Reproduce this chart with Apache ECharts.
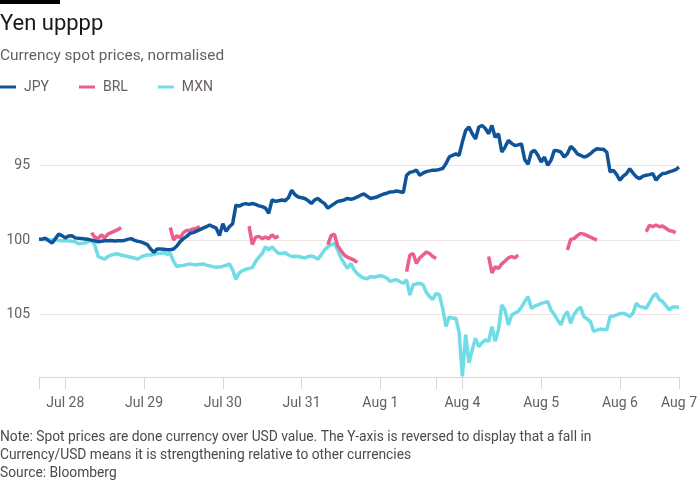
<!DOCTYPE html>
<html><head><meta charset="utf-8">
<script src="https://cdn.jsdelivr.net/npm/echarts@6/dist/echarts.min.js"></script>
<style>html,body{margin:0;padding:0;background:#fff}#c{width:700px;height:500px}</style>
</head><body><div id="c"></div>
<script>
// Trading sessions (weekend removed), hourly steps
const sessions = [
  {start: '2025-07-27T16:00:00Z', hours: 121},
  {start: '2025-08-03T16:00:00Z', hours: 75}
];
const endLabel = 'Aug 7';
const monthNames = ['Jan','Feb','Mar','Apr','May','Jun','Jul','Aug','Sep','Oct','Nov','Dec'];

const jpy = [
  99.95, 99.92, 99.88, 100.05, 100.2, 99.9, 99.6, 99.7, 99.85, 99.72,
  99.7, 99.85, 99.88, 99.9, 99.92, 99.95, 100.0, 100.05, 100.12, 100.08,
  100.05, 100.05, 100.03, 100.06, 100.04, 100.05, 100.02, 99.95, 99.9, 100.0,
  100.08, 100.12, 100.2, 100.3, 100.6, 100.82, 100.6, 100.6, 100.62, 100.65,
  100.65, 100.6, 100.4, 100.1, 99.9, 99.75, 99.55, 99.5, 99.4, 99.3,
  99.2, 99.1, 98.98, 99.1, 99.2, 99.7, 98.9, 99.4, 99.1, 98.9,
  97.65, 97.72, 97.6, 97.55, 97.6, 97.54, 97.6, 97.7, 97.75, 97.85,
  98.2, 97.3, 97.4, 97.35, 97.3, 97.35, 97.15, 96.65, 96.95, 97.1,
  97.15, 97.2, 97.35, 97.54, 97.3, 97.2, 97.4, 97.55, 97.85, 97.7,
  97.55, 97.4, 97.35, 97.3, 97.2, 97.25, 97.2, 97.1, 96.98, 96.9,
  97.05, 97.2, 97.15, 97.1, 97.0, 96.9, 96.85, 96.76, 96.75, 96.7,
  96.75, 96.8, 95.64, 95.45, 95.4, 95.3, 95.64, 95.5, 95.4, 95.35,
  95.3, 95.3, 95.25, 95.19, 94.86, 94.42, 94.3, 94.2, 94.3, 93.4,
  92.63, 92.4, 92.85, 93.2, 92.4, 92.3, 92.5, 92.85, 92.3, 93.1,
  92.85, 94.08, 93.75, 93.3, 93.5, 93.64, 93.6, 93.53, 94.6, 94.9,
  94.1, 93.97, 94.3, 94.75, 94.42, 94.97, 94.64, 93.97, 94.0, 94.08,
  94.42, 94.2, 93.7, 93.9, 94.2, 94.3, 94.42, 94.35, 94.2, 94.0,
  93.86, 93.9, 93.9, 94.1, 95.42, 95.3, 95.6, 95.98, 95.7, 95.53,
  95.2, 95.5, 95.75, 95.87, 95.7, 95.64, 95.6, 95.53, 95.98, 95.7,
  95.53, 95.5, 95.42, 95.35, 95.26, 95.1
];

const mxn = [
  99.95, 99.98, 99.95, 99.96, 100.0, 99.98, 100.02, 100.05, 100.03, 100.05,
  100.08, 100.1, 100.25, 100.22, 100.2, 100.1, 100.03, 100.33, 101.1, 101.2,
  101.28, 101.1, 101.0, 100.95, 100.92, 101.0, 101.05, 101.1, 101.15, 101.2,
  101.28, 101.15, 101.05, 101.0, 101.0, 100.95, 100.9, 100.88, 100.85, 100.95,
  100.9, 101.43, 101.77, 101.72, 101.7, 101.65, 101.6, 101.65, 101.66, 101.62,
  101.6, 101.68, 101.73, 101.78, 101.83, 101.8, 101.77, 101.7, 101.6, 102.0,
  102.63, 102.2, 102.05, 101.97, 101.9, 101.85, 101.43, 101.15, 100.9, 100.45,
  100.67, 100.45, 100.7, 100.9, 100.88, 100.85, 101.0, 101.1, 101.08, 101.1,
  101.15, 101.2, 101.12, 101.06, 101.15, 101.28, 100.98, 100.67, 100.45, 100.3,
  100.22, 100.67, 101.2, 101.57, 101.9, 101.57, 102.0, 102.25, 102.45, 102.55,
  102.6, 102.45, 102.5, 102.45, 102.4, 102.45, 102.55, 102.78, 102.7, 102.67,
  102.8, 102.9, 102.67, 103.69, 103.0, 102.95, 102.9, 103.0, 103.5, 103.8,
  103.98, 103.57, 103.68, 104.58, 105.81, 105.15, 105.25, 105.25, 106.2, 109.16,
  106.36, 108.25, 107.37, 106.6, 107.15, 106.9, 106.7, 106.8, 105.81, 106.8,
  106.03, 104.36, 104.7, 105.7, 105.03, 104.9, 104.8, 104.5, 104.13, 103.8,
  104.58, 104.45, 104.36, 104.25, 104.2, 104.13, 104.69, 105.0, 105.36, 105.7,
  105.1, 104.81, 105.6, 105.0, 104.69, 104.5, 105.14, 105.3, 105.47, 106.14,
  106.05, 105.98, 106.0, 106.03, 105.14, 105.1, 105.03, 104.95, 104.92, 105.0,
  105.14, 104.9, 104.25, 104.47, 104.5, 104.58, 104.2, 103.8, 103.6, 104.0,
  104.13, 104.4, 104.69, 104.5, 104.5, 104.51
];

// BRL only trades in Brazilian hours: segment start (hour index) and values
const brlStarts = [16, 40, 64, 88, 112, 137, 161, 185];
const brlSegments = [
  [99.5, 99.8, 99.9, 99.65, 99.85, 99.6, 99.5, 99.4, 99.3, 99.15],
  [99.15, 100.0, 99.7, 99.85, 99.5, 99.35, 99.33, 99.25, 99.2, 99.1],
  [99.06, 100.3, 99.8, 99.75, 99.9, 99.8, 99.9, 99.65, 99.85, 99.72],
  [100.3, 99.7, 99.6, 100.4, 100.7, 101.0, 101.15, 101.25, 101.35, 101.5],
  [102.12, 101.0, 100.9, 101.57, 101.2, 101.0, 100.8, 100.9, 101.1, 101.23],
  [101.1, 102.2, 101.8, 101.9, 101.6, 101.4, 101.2, 101.1, 101.2, 101.0],
  [100.67, 99.95, 99.9, 99.7, 99.55, 99.6, 99.7, 99.8, 99.9, 100.0],
  [99.44, 99.0, 99.1, 98.98, 99.1, 99.05, 99.2, 99.35, 99.4, 99.5]
];

const yTicks = [95, 100, 105];

// build categories
const categories = [];
const sessionStartIdx = [];
sessions.forEach(s => {
  sessionStartIdx.push(categories.length);
  const t0 = Date.parse(s.start);
  for (let i = 0; i < s.hours; i++) {
    const d = new Date(t0 + i * 3600000);
    const p = n => String(n).padStart(2, '0');
    categories.push(d.getUTCFullYear() + '-' + p(d.getUTCMonth() + 1) + '-' + p(d.getUTCDate()) + ' ' + p(d.getUTCHours()) + ':00');
  }
});
const lastIdx = categories.length - 1;
const brl = categories.map(() => null);
brlStarts.forEach((st, k) => brlSegments[k].forEach((v, j) => { brl[st + j] = v; }));

const isDayStart = v => v.endsWith(' 00:00');
const dayLabel = v => monthNames[+v.slice(5, 7) - 1] + ' ' + (+v.slice(8, 10));

const chart = echarts.init(document.getElementById('c'), null, {renderer: 'canvas'});
const FONT = 'Roboto';
chart.setOption({
  animation: false,
  backgroundColor: '#ffffff',
  textStyle: {fontFamily: FONT},
  grid: {left: 39, right: 18, top: 91.3, bottom: 123, containLabel: false},
  legend: {
    left: 0, top: 80, padding: 0,
    icon: 'rect', itemWidth: 16, itemHeight: 3, itemGap: 30,
    textStyle: {color: '#66605c', fontSize: 14, fontFamily: FONT, padding: [0, 0, 0, 3]},
    data: ['JPY', 'BRL', 'MXN']
  },
  xAxis: {
    type: 'category', data: categories, boundaryGap: false,
    axisLine: {lineStyle: {color: '#dcd6d0', width: 1}},
    axisTick: {
      length: 12, lineStyle: {color: '#dcd6d0'},
      interval: (i, v) => sessionStartIdx.includes(i) || i === lastIdx || isDayStart(v)
    },
    axisLabel: {
      color: '#66605c', fontSize: 14, fontFamily: FONT, margin: 19,
      interval: (i, v) => isDayStart(v) || i === lastIdx,
      formatter: (v, i) => i === lastIdx ? endLabel : dayLabel(v)
    },
    splitLine: {show: false}
  },
  yAxis: {
    type: 'value', inverse: true, min: 90, max: 109.2, interval: 5,
    axisLine: {show: false}, axisTick: {show: false},
    axisLabel: {
      color: '#66605c', fontSize: 14, fontFamily: FONT, margin: 9,
      formatter: v => yTicks.includes(v) ? String(v) : ''
    },
    splitLine: {lineStyle: {color: ['rgba(0,0,0,0)', '#ebe6e1', '#ebe6e1', '#ebe6e1', 'rgba(0,0,0,0)'], width: 1}}
  },
  series: [
    {name: 'JPY', type: 'line', data: jpy, showSymbol: false, z: 4,
     lineStyle: {color: '#0f5499', width: 3.5}, itemStyle: {color: '#0f5499'}},
    {name: 'BRL', type: 'line', data: brl, showSymbol: false, z: 3, connectNulls: false,
     lineStyle: {color: '#eb5e8d', width: 3.5}, itemStyle: {color: '#eb5e8d'}},
    {name: 'MXN', type: 'line', data: mxn, showSymbol: false, z: 2,
     lineStyle: {color: '#70dce6', width: 3.5}, itemStyle: {color: '#70dce6'}}
  ],
  graphic: [
    {type: 'rect', left: 0, top: 0, shape: {width: 60, height: 4}, style: {fill: '#000'}},
    {type: 'text', left: 0, top: 13, style: {text: 'Yen upppp', fill: '#1a1817', font: '22px ' + FONT}},
    {type: 'text', left: 0, top: 49, style: {text: 'Currency spot prices, normalised', fill: '#66605c', font: '15.4px ' + FONT}},
    {type: 'text', left: 0, top: 429, style: {
      text: 'Note: Spot prices are done currency over USD value. The Y-axis is reversed to display that a fall in\nCurrency/USD means it is strengthening relative to other currencies\nSource: Bloomberg',
      fill: '#4e4a47', font: '13.8px ' + FONT, lineHeight: 18}}
  ]
});
</script></body></html>
